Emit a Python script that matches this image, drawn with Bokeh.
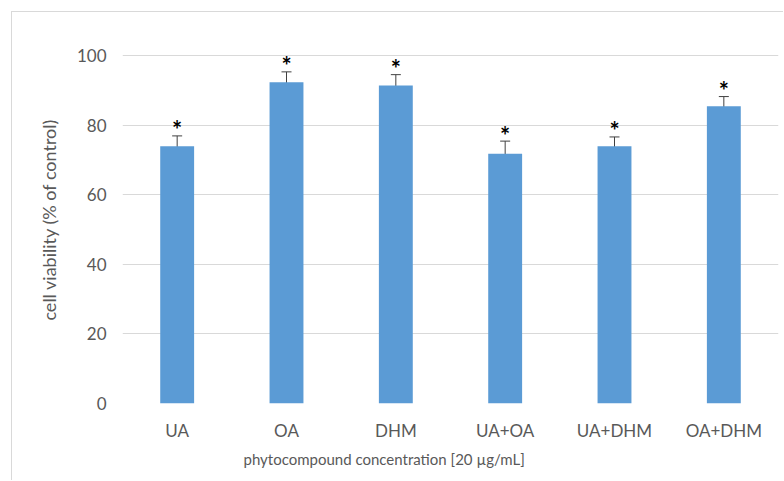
from bokeh.plotting import figure
from bokeh.models import Range1d, Whisker, ColumnDataSource, Title, FactorRange
from bokeh.embed import file_html
from bokeh.resources import INLINE
from bokeh.core.properties import value

categories = ["UA", "OA", "DHM", "UA+OA", "UA+DHM", "OA+DHM"]
viability = [73.9, 92.3, 91.4, 71.8, 73.9, 85.4]
errors = [3.0, 3.0, 3.1, 3.6, 2.7, 2.8]
marks = ["*", "*", "*", "*", "*", "*"]
y_ticks = [0, 20, 40, 60, 80, 100]

x_title = "phytocompound concentration [20 \u00b5g/mL]"
y_title = "cell viability (% of control)"

upper = [v + e for v, e in zip(viability, errors)]
lower = [v - e for v, e in zip(viability, errors)]
src = ColumnDataSource(dict(cat=categories, val=viability, upper=upper,
                            lower=lower, mark=marks))

FONT = "Lato"
TXT = "#595959"

p = figure(x_range=FactorRange(*categories), y_range=Range1d(0, 105.75),
           width=772, height=469, output_backend="svg", toolbar_location=None,
           min_border_left=110, min_border_right=6, min_border_top=23,
           min_border_bottom=78)
p.styles = {"margin-left": "11px", "margin-top": "11px",
            "border-left": "1px solid #d9d9d9", "border-top": "1px solid #d9d9d9"}
p.x_range.range_padding = 0

p.vbar(x="cat", top="val", width=0.31, source=src, fill_color="#5b9bd5",
       line_color=None)

w = Whisker(base="cat", upper="upper", lower="lower", source=src,
            line_color="#404040", line_width=1)
w.upper_head.size = 10
w.lower_head.size = 10
w.upper_head.line_color = "#404040"
w.lower_head.line_color = "#404040"
p.add_layout(w)

p.text(x="cat", y="upper", text="mark", source=src, text_font=value(FONT),
       text_font_style="bold", text_font_size="24px", text_color="black",
       text_align="center", text_baseline="middle", y_offset=-6)

p.outline_line_color = None
p.xgrid.grid_line_color = None
p.ygrid.grid_line_color = "#d9d9d9"
p.ygrid.grid_line_width = 1
p.yaxis.ticker = y_ticks

for ax in (p.xaxis[0], p.yaxis[0]):
    ax.axis_line_color = None
    ax.major_tick_line_color = None
    ax.minor_tick_line_color = None
    ax.major_tick_out = 0
    ax.major_tick_in = 0
    ax.major_label_text_font = FONT
    ax.major_label_text_font_size = "17px"
    ax.major_label_text_color = TXT

p.xaxis.major_label_standoff = 16
p.yaxis.major_label_standoff = 16
p.yaxis.axis_label = y_title
p.yaxis.axis_label_text_font = FONT
p.yaxis.axis_label_text_font_size = "18px"
p.yaxis.axis_label_text_font_style = "normal"
p.yaxis.axis_label_text_color = TXT
p.yaxis.axis_label_standoff = 14

t = Title(text=x_title, align="left", offset=121, text_font=FONT,
          text_font_size="15px", text_font_style="normal", text_color=TXT,
          standoff=8)
p.add_layout(t, "below")

open("out.html", "w").write(file_html(p, INLINE))
